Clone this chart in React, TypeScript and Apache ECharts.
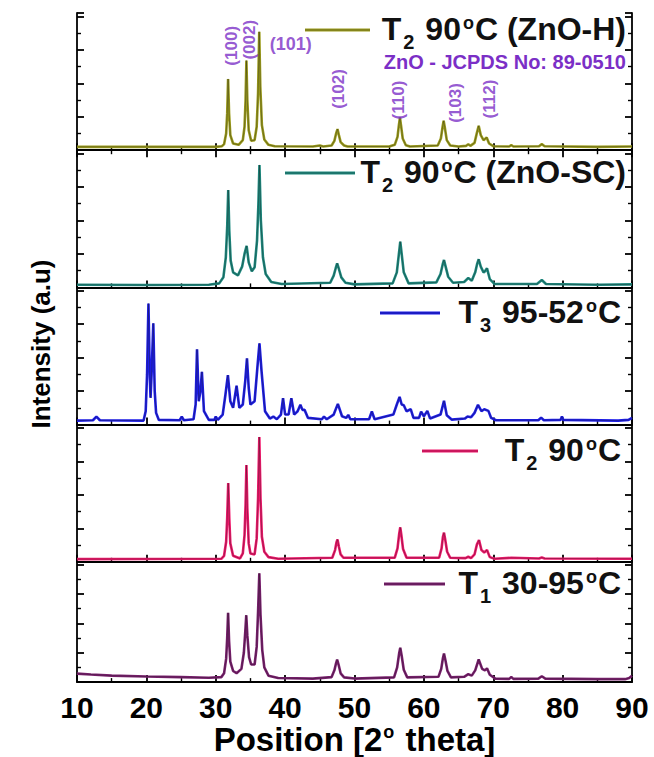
import { useEffect, useRef } from 'react';
import * as echarts from 'echarts';

// ---------- data (2θ, intensity in panel units) ----------
const xTickValues = [10, 20, 30, 40, 50, 60, 70, 80, 90];

const seriesNames = ['T2 90°C (ZnO-H)', 'T2 90°C (ZnO-SC)', 'T3 95-52°C', 'T2 90°C', 'T1 30-95°C'];
const seriesColors = ['#9c9c1c', '#1e8b80', '#1d1dea', '#f2186c', '#7b1f6f'];

const znoH: number[][] = [
  [10, 10], [20, 10], [30, 10], [30.9, 12],
  [31.2, 18], [31.5, 50], [31.65, 110], [31.78, 213], [31.92, 110], [32.1, 45], [32.5, 20],
  [33.3, 16], [33.9, 30], [34.15, 70], [34.3, 150], [34.42, 268], [34.55, 150], [34.75, 60], [35.1, 28],
  [35.6, 30], [35.9, 70], [36.1, 170], [36.27, 354], [36.42, 190], [36.65, 75], [37.0, 32], [37.6, 16], [38.5, 12],
  [44, 11], [45, 14], [45.5, 11],
  [46.7, 14], [47.1, 28], [47.35, 50], [47.55, 63], [47.75, 45], [48.0, 24], [48.5, 14], [49, 11],
  [55, 11], [55.8, 16], [56.2, 40], [56.4, 75], [56.55, 98], [56.7, 75], [56.95, 35], [57.4, 15], [58, 11],
  [62.0, 14], [62.45, 35], [62.7, 70], [62.85, 88], [63.0, 70], [63.3, 30], [63.8, 14], [65, 11],
  [66.1, 13], [66.4, 18], [66.7, 13], [67.3, 22], [67.6, 48], [67.9, 73], [68.2, 45], [68.6, 30], [69.05, 38], [69.4, 20], [70, 12],
  [72.3, 11], [72.6, 15], [72.9, 11], [76.6, 12], [77, 18], [77.4, 12], [85, 10], [90, 11],
];

const znoSC: number[][] = [
  [10, 8], [20, 7], [29, 8], [30.5, 12], [31.1, 30], [31.45, 90], [31.65, 180], [31.8, 291], [31.95, 170], [32.15, 80], [32.5, 45],
  [33.2, 36], [33.8, 62], [34.15, 100], [34.45, 124], [34.75, 75], [35.2, 48], [35.6, 60], [35.95, 140], [36.15, 250],
  [36.3, 366], [36.5, 200], [36.8, 90], [37.2, 40], [38, 16], [39.5, 10], [46.5, 14], [47.0, 35], [47.3, 58], [47.5, 72],
  [47.75, 55], [48.1, 30], [48.7, 14], [50, 9], [55.5, 12], [56.1, 45], [56.4, 100], [56.6, 137], [56.8, 100], [57.1, 45], [57.8, 12],
  [61.8, 15], [62.4, 40], [62.75, 72], [62.9, 82], [63.1, 65], [63.5, 32], [64.2, 14], [65.8, 16], [66.4, 28], [66.9, 20],
  [67.4, 45], [67.7, 72], [67.9, 84], [68.2, 62], [68.6, 45], [68.8, 48], [69.1, 57], [69.5, 25], [70.2, 10], [76.3, 10],
  [77, 22], [77.6, 10], [85, 8], [90, 9],
];

const t3: number[][] = [
  [10, 12], [12.3, 13], [12.8, 24], [13.3, 13], [19.6, 12], [19.9, 40], [20.1, 150], [20.3, 362], [20.5, 140], [20.6, 80],
  [20.75, 150], [21.0, 303], [21.2, 100], [21.4, 35], [21.8, 14], [24.8, 13], [25.1, 24], [25.4, 13], [26.8, 16],
  [27.1, 60], [27.3, 225], [27.55, 70], [27.8, 100], [28.0, 158], [28.3, 40], [29, 14], [29.8, 14], [30.0, 24],
  [30.3, 14], [31.0, 30], [31.4, 90], [31.75, 148], [32.1, 70], [32.5, 50], [33.0, 116], [33.4, 50],
  [33.9, 60], [34.25, 130], [34.5, 198], [34.75, 110], [35.0, 60], [35.6, 70], [36.0, 170], [36.3, 243], [36.6, 160], [37.1, 40],
  [37.8, 18], [38.3, 24], [38.8, 16], [39.4, 30], [39.7, 79], [40.0, 30], [40.5, 30], [40.9, 79],
  [41.3, 30], [41.8, 40], [42.2, 59], [42.5, 44], [42.8, 44], [43.3, 20], [45.3, 16], [45.6, 24],
  [46, 16], [47.0, 30], [47.6, 62], [48.2, 25], [48.8, 20], [49.1, 29], [49.4, 16], [52.1, 16],
  [52.5, 39], [52.9, 16], [55.6, 30], [56.1, 60], [56.5, 83], [56.8, 60], [57.1, 58], [57.5, 40],
  [58.1, 46], [58.5, 20], [59.3, 20], [59.6, 39], [60.0, 25], [60.5, 41], [60.9, 18], [62.4, 30],
  [62.9, 71], [63.3, 28], [64, 15], [65.9, 18], [66.3, 24], [66.8, 22], [67.3, 35], [67.8, 59],
  [68.3, 40], [68.7, 46], [69.3, 41], [69.7, 20], [70.4, 13], [76.5, 13], [76.9, 21], [77.3, 13],
  [79.7, 14], [79.9, 24], [80.1, 14], [88, 12], [89.5, 14], [90, 20],
];

const t2: number[][] = [
  [10, 8], [30.8, 9], [31.2, 18], [31.5, 60], [31.65, 130], [31.8, 235], [31.95, 130], [32.1, 55], [32.5, 18], [33.5, 10],
  [33.9, 25], [34.15, 80], [34.3, 170], [34.42, 289], [34.55, 160], [34.75, 55], [35.0, 25], [35.6, 22], [35.9, 70],
  [36.1, 190], [36.28, 373], [36.45, 190], [36.65, 75], [37.0, 30], [37.6, 14], [39, 9], [46.8, 12], [47.2, 35], [47.4, 58],
  [47.55, 67], [47.75, 45], [48.0, 22], [48.4, 12], [55.8, 12], [56.2, 40], [56.45, 85], [56.6, 103], [56.75, 80], [57.0, 38], [57.5, 12],
  [62.2, 12], [62.55, 40], [62.75, 75], [62.9, 87], [63.05, 70], [63.35, 30], [63.8, 12], [66.0, 11], [66.4, 15], [66.8, 11],
  [67.3, 22], [67.65, 52], [67.95, 65], [68.3, 35], [68.7, 28], [69.1, 35], [69.5, 14], [70.2, 9],
  [72.6, 12], [76.6, 10], [77, 13], [77.4, 10], [90, 9],
];

const t1: number[][] = [
  [10, 29], [12, 26], [15, 22], [20, 19], [25, 17], [29, 15], [30.8, 17], [31.2, 30], [31.5, 80], [31.65, 150],
  [31.78, 236], [31.92, 140], [32.1, 70], [32.5, 38], [33.0, 30], [33.7, 45], [34.05, 100], [34.25, 170], [34.4, 228],
  [34.55, 160], [34.8, 85], [35.1, 60], [35.6, 60], [35.9, 120], [36.1, 240], [36.28, 371], [36.45, 230],
  [36.7, 110], [37.0, 50], [37.6, 22], [39, 14], [44, 12], [46.7, 17], [47.1, 40], [47.35, 65], [47.5, 77], [47.7, 60],
  [48.0, 30], [48.5, 16], [50, 12], [55.7, 16], [56.15, 50], [56.45, 100], [56.6, 117], [56.8, 90], [57.1, 42], [57.6, 16], [62.1, 18],
  [62.5, 45], [62.75, 82], [62.9, 97], [63.1, 75], [63.4, 38], [63.9, 16], [65.8, 18], [66.4, 27], [66.9, 22], [67.4, 40],
  [67.9, 77], [68.4, 45], [68.8, 40], [69.1, 47], [69.5, 25], [70.3, 12], [72.3, 11], [72.6, 17],
  [72.9, 11], [76.5, 12], [77, 20], [77.5, 12], [85, 10], [89, 10], [89.6, 14], [90, 22],
];

const patterns = [znoH, znoSC, t3, t2, t1];

// hkl reflections marked in the top panel
const hklLabels = ['(100)', '(002)', '(101)', '(102)', '(110)', '(103)', '(112)'];
const hklX = [32.3, 34.8, 40.8, 47.7, 56.3, 64.6, 69.5];
const hklY = [312, 330, 318, 183, 150, 141, 153];
const hklVertical = [true, true, false, true, true, true, true];

const legendRich = [
  '{m|T}{sub|2}{m| 90}{sup|o}{m|C (ZnO-H)}',
  '{m|T}{sub|2}{m| 90}{sup|o}{m|C (ZnO-SC)}',
  '{m|T}{sub|3}{m| 95-52}{sup|o}{m|C}',
  '{m|T}{sub|2}{m| 90}{sup|o}{m|C}',
  '{m|T}{sub|1}{m| 30-95}{sup|o}{m|C}',
];

// ---------- layout ----------
const W = 654;
const H = 757;
const LEFT = 77;
const RIGHT_X = 632;
const TOP = 13;
const BOTTOM = 699;
const PANEL_H = (BOTTOM - TOP) / 5;
const FONT = '"Liberation Sans", Arial, sans-serif';
const PURPLE = '#7b2fc6';

const legendGeom = [
  { x1: 305, x2: 370, y: 30, tx: 626 },
  { x1: 285, x2: 355, y: 173, tx: 626 },
  { x1: 380, x2: 440, y: 313, tx: 621 },
  { x1: 422, x2: 478, y: 451, tx: 621 },
  { x1: 384, x2: 445, y: 584, tx: 621 },
];

export default function App() {
  const ref = useRef<HTMLDivElement>(null);

  useEffect(() => {
    document.body.style.margin = '0';
    if (!ref.current) return;
    const chart = echarts.init(ref.current, null, { renderer: 'svg' });

    const axisLineStyle = { color: '#000', width: 1.8 };
    const tickStyle = { color: '#000', width: 1.8 };
    const minorStyle = { color: '#000', width: 1.4 };
    const grids: any[] = [];
    const xAxes: any[] = [];
    const yAxes: any[] = [];
    const series: any[] = [];

    for (let i = 0; i < 5; i++) {
      grids.push({
        left: LEFT,
        width: RIGHT_X - LEFT,
        top: TOP + PANEL_H * i,
        height: PANEL_H,
        containLabel: false,
      });
      const last = i === 4;
      xAxes.push({
        type: 'value',
        gridIndex: i,
        min: xTickValues[0],
        max: xTickValues[xTickValues.length - 1],
        interval: 10,
        axisLine: { show: true, lineStyle: axisLineStyle },
        axisTick: { show: true, inside: true, length: 7, lineStyle: tickStyle },
        minorTick: { show: true, splitNumber: 2, length: 4, lineStyle: minorStyle },
        splitLine: { show: false },
        axisLabel: {
          show: last,
          margin: 10,
          color: '#000',
          fontSize: 30,
          fontWeight: 'bold',
          fontFamily: FONT,
        },
        name: last ? 'Position [2{sup|o} theta]' : '',
        nameLocation: 'middle',
        nameGap: 29,
        nameTextStyle: {
          color: '#000',
          fontSize: 33,
          fontWeight: 'bold',
          fontFamily: FONT,
          verticalAlign: 'top',
          rich: {
            sup: { fontSize: 18, fontWeight: 'bold', fontFamily: FONT, verticalAlign: 'top', lineHeight: 16, padding: [0, 2, 0, 1] },
          },
        },
      });
      for (const pos of ['left', 'right']) {
        yAxes.push({
          type: 'value',
          gridIndex: i,
          position: pos,
          min: 0,
          max: 410,
          interval: 100,
          axisLine: { show: true, lineStyle: axisLineStyle },
          axisTick: { show: true, inside: true, length: 7, lineStyle: tickStyle },
          minorTick: { show: true, splitNumber: 2, length: 4, lineStyle: minorStyle },
          splitLine: { show: false },
          axisLabel: { show: false },
        });
      }
      series.push({
        type: 'line',
        name: seriesNames[i],
        xAxisIndex: i,
        yAxisIndex: i * 2,
        data: patterns[i],
        symbol: 'none',
        lineStyle: { color: seriesColors[i], width: 2.6 },
        itemStyle: { color: seriesColors[i] },
        z: 2,
      });
      series.push({
        type: 'line',
        name: seriesNames[i] + ' ',
        xAxisIndex: i,
        yAxisIndex: i * 2,
        data: patterns[i],
        symbol: 'none',
        silent: true,
        lineStyle: { color: '#1a1a1a', width: 0.7, opacity: 0.5 },
        z: 3,
      });
    }

    // top axis of first panel (ticks on top frame)
    xAxes.push({
      type: 'value',
      gridIndex: 0,
      position: 'top',
      min: 10,
      max: 90,
      interval: 10,
      axisLine: { show: true, lineStyle: axisLineStyle },
      axisTick: { show: true, inside: true, length: 7, lineStyle: tickStyle },
      minorTick: { show: true, splitNumber: 2, length: 4, lineStyle: minorStyle },
      splitLine: { show: false },
      axisLabel: { show: false },
    });

    series.push({
      type: 'scatter',
      xAxisIndex: 0,
      yAxisIndex: 0,
      symbolSize: 0,
      silent: true,
      z: 5,
      data: hklLabels.map((name, k) => ({
        name,
        value: [hklX[k], hklY[k]],
        label: { rotate: hklVertical[k] ? 90 : 0, fontSize: hklVertical[k] ? 17 : 18 },
      })),
      label: {
        show: true,
        position: 'inside',
        formatter: (p: any) => p.name,
        color: PURPLE,
        fontSize: 17,
        fontWeight: 'bold',
        fontFamily: FONT,
      },
    });

    const graphics: any[] = [];
    legendGeom.forEach((g, i) => {
      graphics.push({
        type: 'line',
        shape: { x1: g.x1, y1: g.y, x2: g.x2, y2: g.y },
        style: { stroke: seriesColors[i], lineWidth: 3.2 },
        z: 10,
      });
      graphics.push({
        type: 'line',
        shape: { x1: g.x1, y1: g.y, x2: g.x2, y2: g.y },
        style: { stroke: '#1a1a1a', lineWidth: 0.8, opacity: 0.45 },
        z: 11,
      });
      graphics.push({
        type: 'text',
        x: g.tx,
        y: g.y - 17,
        z: 12,
        style: {
          text: legendRich[i],
          align: 'right',
          verticalAlign: 'top',
          fill: '#111',
          rich: {
            m: { fontSize: 32, fontWeight: 'bold', fontFamily: FONT, lineHeight: 36, verticalAlign: 'top', fill: '#111', color: '#111' },
            sub: { fontSize: 20, fontWeight: 'bold', fontFamily: FONT, lineHeight: 20, verticalAlign: 'top', padding: [19, 2, 0, 2], fill: '#111', color: '#111' },
            sup: { fontSize: 18, fontWeight: 'bold', fontFamily: FONT, lineHeight: 18, verticalAlign: 'top', padding: [1, 1, 0, 2], fill: '#111', color: '#111' },
          },
        },
      });
    });

    graphics.push({
      type: 'text',
      x: 626,
      y: 62,
      z: 12,
      style: {
        text: 'ZnO - JCPDS No: 89-0510',
        align: 'right',
        verticalAlign: 'middle',
        fill: PURPLE,
        fontSize: 20,
        fontWeight: 'bold',
        fontFamily: FONT,
      },
    });

    graphics.push({
      type: 'text',
      x: 41,
      y: 344,
      rotation: Math.PI / 2,
      z: 12,
      style: {
        text: 'Intensity (a.u)',
        align: 'center',
        verticalAlign: 'middle',
        fill: '#000',
        fontSize: 26,
        fontWeight: 'bold',
        fontFamily: FONT,
      },
    });

    chart.setOption({
      animation: false,
      backgroundColor: '#fff',
      grid: grids,
      xAxis: xAxes,
      yAxis: yAxes,
      series,
      graphic: graphics,
    });

    return () => chart.dispose();
  }, []);

  return <div ref={ref} style={{ width: W, height: H }} />;
}
